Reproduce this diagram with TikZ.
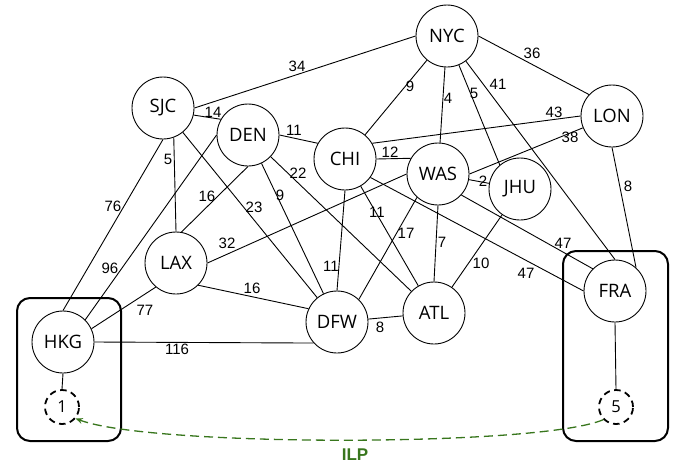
\documentclass[tikz,border=0pt]{standalone}
\usepackage{fontspec}
\setmainfont{Open Sans}
\newfontfamily\lblfont{Liberation Sans}
\usetikzlibrary{arrows.meta}
\definecolor{ilpgreen}{RGB}{56,118,29}
\begin{document}
\begin{tikzpicture}[x=1pt,y=-1pt,
  city/.style={circle,draw,line width=0.9pt,minimum size=62pt,inner sep=0pt,font=\fontsize{18.5}{20}\selectfont},
  virt/.style={circle,draw,line width=1.8pt,dash pattern=on 6.5pt off 4.5pt,minimum size=34pt,inner sep=0pt,font=\fontsize{16.5}{18}\selectfont},
  lbl/.style={inner sep=0pt,font=\lblfont\fontsize{15}{17}\selectfont},
  edge/.style={line width=0.9pt},
  grp/.style={draw,line width=2pt,rounded corners=13pt},
  ilp/.style={draw=ilpgreen,line width=1.3pt,dash pattern=on 9pt off 5pt,-{Stealth[length=7pt,width=6pt]}}]
\useasboundingbox (0,0) rectangle (691,466);
% groups
\draw[grp] (17,298) rectangle (121,441);
\draw[grp] (563,251) rectangle (668,441);
% nodes
\node[city] (NYC) at (447,36) {NYC};
\node[city] (LON) at (612,116) {LON};
\node[city] (SJC) at (163,108) {SJC};
\node[city] (DEN) at (248,135) {DEN};
\node[city] (CHI) at (345,159) {CHI};
\node[city] (WAS) at (438,174) {WAS};
\node[city] (JHU) at (520,189) {JHU};
\node[city] (ATL) at (434,313) {ATL};
\node[city] (DFW) at (337,322) {DFW};
\node[city] (LAX) at (176,263) {LAX};
\node[city] (HKG) at (63,342) {HKG};
\node[city] (FRA) at (615,291) {FRA};
\node[virt] (one) at (62,407) {1};
\node[virt] (five) at (616,407) {5};
% edges
\draw[edge] (SJC.east) -- (NYC.west);
\draw[edge] (NYC) -- (CHI);
\draw[edge] (NYC) -- (WAS);
\draw[edge] (NYC) -- (JHU.130);
\draw[edge] (NYC) -- (FRA.north);
\draw[edge] (NYC.east) -- (LON.137);
\draw[edge] (CHI.30) -- (LON.west);
\draw[edge] (LON) -- (WAS.east);
\draw[edge] (LON.south) -- (FRA.48);
\draw[edge] (SJC.-13) -- (DEN.150);
\draw[edge] (DEN.east) -- (CHI.150);
\draw[edge] (CHI.east) -- (WAS.150);
\draw[edge] (WAS) -- (JHU);
\draw[edge] (SJC.-70) -- (LAX.north);
\draw[edge] (SJC.south) -- (HKG.north);
\draw[edge] (SJC) -- (DFW);
\draw[edge] (DEN.south) -- (LAX.80);
\draw[edge] (DEN.west) -- (HKG.45);
\draw[edge] (DEN) -- (DFW);
\draw[edge] (DEN) -- (ATL);
\draw[edge] (LAX.east) -- (WAS.west);
\draw[edge] (LAX.-45) -- (DFW.155);
\draw[edge] (LAX.-130) -- (HKG.25);
\draw[edge] (HKG.east) -- (DFW.222);
\draw[edge] (CHI.south) -- (DFW.north);
\draw[edge] (CHI) -- (ATL);
\draw[edge] (CHI.-36) -- (FRA.west);
\draw[edge] (WAS.-42) -- (FRA.135);
\draw[edge] (WAS.-132) -- (DFW.46);
\draw[edge] (WAS.south) -- (ATL.north);
\draw[edge] (JHU) -- (ATL);
\draw[edge] (DFW) -- (ATL);
\draw[edge] (HKG.south) -- (one.north);
\draw[edge] (FRA.south) -- (five.north);
% labels
\node[lbl] (l34) at (297,66) {34};
\node[lbl] (l9a) at (410,86) {9};
\node[lbl] (l4) at (448,98) {4};
\node[lbl] (l5a) at (474,93) {5};
\node[lbl] (l41) at (498,84) {41};
\node[lbl] (l36) at (532,53) {36};
\node[lbl] (l43) at (554,112) {43};
\node[lbl] (l38) at (570,137) {38};
\node[lbl] (l8a) at (628,186) {8};
\node[lbl] (l14) at (213,112) {14};
\node[lbl] (l11a) at (294,130) {11};
\node[lbl] (l12) at (390,152) {12};
\node[lbl] (l2) at (483,181) {2};
\node[lbl] (l5b) at (168,159) {5};
\node[lbl] (l76) at (113,206) {76};
\node[lbl] (l23) at (254,207) {23};
\node[lbl] (l16a) at (207,196) {16};
\node[lbl] (l96) at (110,268) {96};
\node[lbl] (l9b) at (280,195) {9};
\node[lbl] (l22) at (298,173) {22};
\node[lbl] (l32) at (227,243) {32};
\node[lbl] (l16b) at (252,288) {16};
\node[lbl] (l77) at (145,310) {77};
\node[lbl] (l116) at (177,349) {116};
\node[lbl] (l11b) at (331,266) {11};
\node[lbl] (l11c) at (377,212) {11};
\node[lbl] (l47a) at (526,273) {47};
\node[lbl] (l47b) at (563,243) {47};
\node[lbl] (l17) at (406,233) {17};
\node[lbl] (l7) at (442,242) {7};
\node[lbl] (l10) at (481,263) {10};
\node[lbl] (l8b) at (380,327) {8};
% ILP
\draw[ilp] (five.225) .. controls (540,447) and (150,447) .. (one.-40);
\node[inner sep=0pt,text=ilpgreen,font=\lblfont\bfseries\fontsize{17}{19}\selectfont] (ilplbl) at (355,455) {ILP};
\end{tikzpicture}
\end{document}
